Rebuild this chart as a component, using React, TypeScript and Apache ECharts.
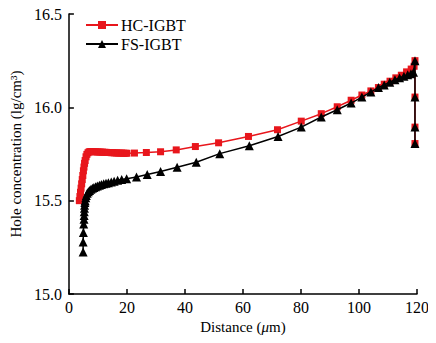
import React, { useEffect, useRef } from "react";
import * as echarts from "echarts";

const hcX = [3.6, 3.8, 4.0, 4.2, 4.4, 4.6, 4.8, 5.0, 5.2, 5.4, 5.6, 5.9, 6.2, 6.6, 7.0, 7.5, 8.0, 8.6, 9.2, 9.8, 10.4, 11.0, 11.6, 12.2, 12.8, 13.4, 14.0, 14.6, 15.2, 15.8, 16.4, 17.0, 17.6, 18.2, 18.8, 19.4, 20.0, 22.6, 26.7, 31.6, 37.0, 43.6, 51.6, 61.9, 71.9, 80.1, 87.0, 92.5, 97.3, 101.0, 104.1, 106.7, 108.7, 110.7, 112.7, 114.6, 116.4, 118.0, 119.0, 119.3, 119.3, 119.3, 119.3];
const hcY = [15.5, 15.522, 15.545, 15.567, 15.59, 15.613, 15.635, 15.66, 15.68, 15.7, 15.715, 15.735, 15.748, 15.757, 15.762, 15.763, 15.763, 15.762, 15.762, 15.761, 15.761, 15.76, 15.76, 15.759, 15.759, 15.758, 15.758, 15.757, 15.757, 15.756, 15.756, 15.755, 15.755, 15.755, 15.754, 15.754, 15.754, 15.755, 15.758, 15.762, 15.772, 15.79, 15.81, 15.844, 15.88, 15.926, 15.966, 16.003, 16.038, 16.066, 16.088, 16.106, 16.124, 16.14, 16.158, 16.172, 16.19, 16.205, 16.22, 16.25, 16.055, 15.894, 15.806];

const fsX = [4.9, 4.9, 5.0, 5.1, 5.2, 5.25, 5.3, 5.35, 5.4, 5.5, 5.6, 5.8, 6.0, 6.3, 6.7, 7.1, 7.6, 8.1, 8.6, 9.2, 9.8, 10.5, 11.2, 12.0, 12.8, 13.6, 14.6, 15.6, 16.8, 18.2, 19.9, 23.3, 27.0, 31.6, 37.3, 43.9, 52.0, 62.2, 72.1, 80.1, 87.0, 92.5, 97.3, 101.0, 104.1, 106.7, 108.7, 110.6, 112.4, 114.0, 115.5, 116.8, 117.9, 118.8, 119.3, 119.3, 119.3, 119.3];
const fsY = [15.225, 15.278, 15.33, 15.375, 15.4, 15.42, 15.44, 15.46, 15.475, 15.49, 15.5, 15.515, 15.528, 15.54, 15.548, 15.555, 15.561, 15.566, 15.571, 15.575, 15.579, 15.583, 15.587, 15.59, 15.593, 15.596, 15.6, 15.604, 15.609, 15.613, 15.618, 15.627, 15.64, 15.656, 15.679, 15.706, 15.752, 15.794, 15.844, 15.894, 15.948, 15.987, 16.023, 16.055, 16.082, 16.106, 16.12, 16.135, 16.148, 16.158, 16.167, 16.175, 16.18, 16.188, 16.25, 16.055, 15.894, 15.806];

const seriesNames = ["HC-IGBT", "FS-IGBT"];
const xTicks = { min: 0, max: 120, interval: 20 };
const yTicks = { min: 15, max: 16.5, interval: 0.5 };

const FONT = "Liberation Serif";

export default function App() {
  const ref = useRef<HTMLDivElement>(null);
  useEffect(() => {
    if (!ref.current) return;
    const chart = echarts.init(ref.current, null, { renderer: "svg" });
    const red = "#e8161c";
    chart.setOption({
      animation: false,
      textStyle: { fontFamily: FONT, color: "#000" },
      grid: { left: 67, right: 19, top: 14, bottom: 49 },
      legend: {
        orient: "vertical",
        left: 80,
        top: 12,
        itemWidth: 32,
        itemHeight: 10,
        itemGap: 3,
        textStyle: { fontFamily: FONT, fontSize: 16, color: "#000", padding: [0, 0, 0, -2] },
        data: seriesNames,
      },
      xAxis: {
        type: "value",
        min: xTicks.min,
        max: xTicks.max,
        interval: xTicks.interval,
        name: "Distance ({it|μ}m)",
        nameLocation: "middle",
        nameGap: 25,
        nameTextStyle: {
          fontFamily: FONT,
          fontSize: 15,
          color: "#000",
          rich: { it: { fontFamily: FONT, fontSize: 15, fontStyle: "italic", color: "#000" } },
        },
        axisLine: { lineStyle: { color: "#000", width: 1.5 } },
        axisTick: { inside: true, length: 5, lineStyle: { color: "#000", width: 1.5 } },
        axisLabel: { fontFamily: FONT, fontSize: 16, color: "#000", margin: 5 },
        splitLine: { show: false },
      },
      yAxis: {
        type: "value",
        min: yTicks.min,
        max: yTicks.max,
        interval: yTicks.interval,
        name: "Hole concentration (lg/cm³)",
        nameLocation: "middle",
        nameGap: 45,
        nameTextStyle: { fontFamily: FONT, fontSize: 15, color: "#000" },
        axisLine: { show: true, lineStyle: { color: "#000", width: 1.5 } },
        axisTick: { show: true, inside: true, length: 5, lineStyle: { color: "#000", width: 1.5 } },
        axisLabel: {
          fontFamily: FONT,
          fontSize: 16,
          color: "#000",
          margin: 7,
          formatter: (v: number) => v.toFixed(1),
        },
        splitLine: { show: false },
      },
      series: [
        {
          name: seriesNames[0],
          type: "line",
          data: hcX.map((x, i) => [x, hcY[i]]),
          symbol: "rect",
          symbolSize: 7,
          lineStyle: { color: red, width: 1.5 },
          itemStyle: { color: red },
          z: 2,
        },
        {
          name: seriesNames[1],
          type: "line",
          data: fsX.map((x, i) => [x, fsY[i]]),
          symbol: "triangle",
          symbolSize: 9,
          lineStyle: { color: "#000", width: 1.5 },
          itemStyle: { color: "#000" },
          z: 3,
        },
      ],
    });
    return () => chart.dispose();
  }, []);
  return <div ref={ref} style={{ width: 436, height: 343, margin: -8 }} />;
}
